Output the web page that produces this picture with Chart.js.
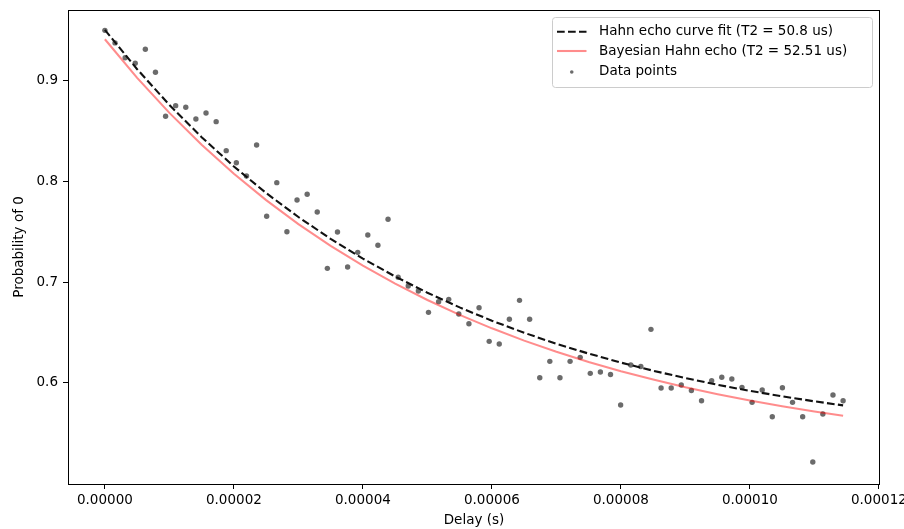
<!DOCTYPE html>
<html>
<head>
<meta charset="utf-8">
<script src="https://cdn.jsdelivr.net/npm/chart.js@4.4.1/dist/chart.umd.min.js"></script>
<style>
  html, body { margin: 0; padding: 0; background: #fff; }
  canvas { display: block; }
</style>
</head>
<body>
<canvas id="chart" width="904" height="529"></canvas>
<script>
// Hahn echo measurement: delay in microseconds, probability of measuring 0
const delaysUs = [
    0, 1.57, 3.14, 4.70, 6.27, 7.84, 9.41, 10.97, 12.54, 14.11,
    15.68, 17.25, 18.81, 20.38, 21.95, 23.52, 25.08, 26.65, 28.22, 29.79,
    31.36, 32.92, 34.49, 36.06, 37.63, 39.20, 40.76, 42.33, 43.90, 45.47,
    47.03, 48.60, 50.17, 51.74, 53.31, 54.87, 56.44, 58.01, 59.58, 61.14,
    62.71, 64.28, 65.85, 67.42, 68.98, 70.55, 72.12, 73.69, 75.25, 76.82,
    78.39, 79.96, 81.53, 83.09, 84.66, 86.23, 87.80, 89.36, 90.93, 92.50,
    94.07, 95.64, 97.20, 98.77, 100.34, 101.91, 103.47, 105.04, 106.61, 108.18,
    109.75, 111.31, 112.88, 114.45
];
const probabilities = [
    0.950, 0.9375, 0.9228, 0.9173, 0.9312, 0.9083, 0.8646, 0.8752, 0.8736, 0.8620,
    0.8679, 0.8593, 0.8305, 0.8185, 0.8053, 0.8361, 0.7653, 0.7987, 0.7500, 0.7815,
    0.7872, 0.7696, 0.7136, 0.7497, 0.7149, 0.7295, 0.7467, 0.7365, 0.7623, 0.7047,
    0.6961, 0.6911, 0.6699, 0.6805, 0.6828, 0.6682, 0.6586, 0.6745, 0.6411, 0.6384,
    0.6630, 0.6818, 0.6630, 0.6050, 0.6212, 0.6050, 0.6212, 0.6252, 0.6093, 0.6106,
    0.6081, 0.5778, 0.6176, 0.6161, 0.6530, 0.5947, 0.5947, 0.5977, 0.5922, 0.5821,
    0.6020, 0.6054, 0.6037, 0.5954, 0.5805, 0.5927, 0.5662, 0.5950, 0.5805, 0.5662,
    0.5212, 0.5689, 0.5878, 0.5821
];

// fitted curves
const curveTimesUs = [
    0, 5, 10, 15, 20, 25, 30, 35, 40, 45, 50, 55,
    60, 65, 70, 75, 80, 85, 90, 95, 100, 105, 110, 114.45
];
const hahnFit = [
    0.9504, 0.9114, 0.8759, 0.8439, 0.8148, 0.7884, 0.7646, 0.7429, 0.7233, 0.7055, 0.6894, 0.6748,
    0.6616, 0.6496, 0.6387, 0.6289, 0.6200, 0.6119, 0.6046, 0.5979, 0.5919, 0.5865, 0.5815, 0.5775
];
const bayesFit = [
    0.9411, 0.9028, 0.8680, 0.8363, 0.8076, 0.7814, 0.7576, 0.7360, 0.7163, 0.6984, 0.6822, 0.6674,
    0.6540, 0.6418, 0.6307, 0.6206, 0.6114, 0.6031, 0.5954, 0.5886, 0.5823, 0.5766, 0.5714, 0.5672
];

const seriesLabels = [
    'Hahn echo curve fit (T2 = 50.8 us)',
    'Bayesian Hahn echo (T2 = 52.51 us)',
    'Data points'
];
const xTicksUs = [0, 20, 40, 60, 80, 100, 120];
const yTicks = [0.6, 0.7, 0.8, 0.9];

const FONT = { family: 'DejaVu Sans', size: 13.5 };
const DASH = [7.7, 3.3];
const RED = 'rgba(255, 0, 0, 0.45)';
const DOT = 'rgba(0, 0, 0, 0.58)';

Chart.defaults.font.family = FONT.family;
Chart.defaults.font.size = FONT.size;
Chart.defaults.color = '#000';

const toXY = (xs, ys) => xs.map((x, i) => ({ x, y: ys[i] }));

// matplotlib-style frame around the plot area
const framePlugin = {
    id: 'frame',
    afterDatasetsDraw(chart) {
        const { ctx, chartArea: a } = chart;
        ctx.save();
        ctx.strokeStyle = '#000';
        ctx.lineWidth = 1;
        ctx.strokeRect(Math.round(a.left) + 0.5, Math.round(a.top) + 0.5,
            Math.round(a.right - a.left) - 1, Math.round(a.bottom - a.top));
        ctx.restore();
    }
};

// legend box in the upper right corner of the axes
const legendPlugin = {
    id: 'mplLegend',
    afterDraw(chart) {
        const { ctx, chartArea: a } = chart;
        const boxW = 320, boxH = 70;
        const bx = a.right - 7.5 - boxW, by = a.top + 7.5;
        ctx.save();
        ctx.fillStyle = 'rgba(255,255,255,0.8)';
        ctx.strokeStyle = '#cccccc';
        ctx.lineWidth = 1;
        ctx.beginPath();
        ctx.roundRect(bx, by, boxW, boxH, 3);
        ctx.fill();
        ctx.stroke();

        const rowY = [by + 14.2, by + 33.5, by + 53.5];
        const hx0 = bx + 4.5, hx1 = bx + 34;
        chart.data.datasets.forEach((ds, i) => {
            const y = rowY[i];
            if (ds.showLine) {
                ctx.strokeStyle = ds.borderColor;
                ctx.lineWidth = ds.borderWidth;
                ctx.setLineDash(ds.borderDash || []);
                ctx.beginPath();
                ctx.moveTo(hx0, y);
                ctx.lineTo(hx1, y);
                ctx.stroke();
                ctx.setLineDash([]);
            } else {
                ctx.fillStyle = ds.backgroundColor;
                ctx.beginPath();
                ctx.arc((hx0 + hx1) / 2, y + 1, 1.8, 0, Math.PI * 2);
                ctx.fill();
            }
            ctx.fillStyle = '#000';
            ctx.font = `${FONT.size}px "${FONT.family}"`;
            ctx.textBaseline = 'middle';
            ctx.textAlign = 'left';
            ctx.fillText(ds.label, bx + 46.5, y);
        });
        ctx.restore();
    }
};

new Chart(document.getElementById('chart'), {
    type: 'scatter',
    data: {
        datasets: [
            {
                label: seriesLabels[0],
                data: toXY(curveTimesUs, hahnFit),
                showLine: true,
                borderColor: '#111',
                borderWidth: 2.1,
                borderDash: DASH,
                pointRadius: 0,
                fill: false,
            },
            {
                label: seriesLabels[1],
                data: toXY(curveTimesUs, bayesFit),
                showLine: true,
                borderColor: RED,
                borderWidth: 2.1,
                pointRadius: 0,
                fill: false,
            },
            {
                label: seriesLabels[2],
                data: toXY(delaysUs, probabilities),
                showLine: false,
                backgroundColor: DOT,
                borderWidth: 0,
                pointRadius: 2.7,
            }
        ]
    },
    options: {
        responsive: false,
        animation: false,
        layout: { padding: { top: 10, right: 24, left: 0, bottom: 0 } },
        plugins: {
            legend: { display: false },
            tooltip: { enabled: false },
        },
        scales: {
            x: {
                type: 'linear',
                min: -5.72,
                max: 120.17,
                afterBuildTicks(scale) {
                    scale.ticks = xTicksUs.map(v => ({ value: v }));
                },
                afterFit(scale) {
                    scale.height = 45;
                    scale.paddingLeft = 0;
                    scale.paddingRight = 0;
                },
                border: { display: false },
                grid: {
                    drawOnChartArea: false,
                    drawTicks: true,
                    tickLength: 5,
                    tickColor: '#000',
                    tickWidth: 1,
                },
                ticks: {
                    padding: 3.5,
                    maxRotation: 0,
                    autoSkip: false,
                    color: '#000',
                    callback: v => (v / 1e6).toFixed(5),
                },
                title: {
                    display: true,
                    text: 'Delay (s)',
                    color: '#000',
                    padding: { top: 0, bottom: 0 },
                },
            },
            y: {
                type: 'linear',
                min: 0.4994,
                max: 0.9702,
                afterBuildTicks(scale) {
                    scale.ticks = yTicks.map(v => ({ value: v }));
                },
                afterFit(scale) {
                    scale.width = 68;
                    scale.paddingTop = 0;
                    scale.paddingBottom = 0;
                },
                border: { display: false },
                grid: {
                    drawOnChartArea: false,
                    drawTicks: true,
                    tickLength: 5,
                    tickColor: '#000',
                    tickWidth: 1,
                },
                ticks: {
                    padding: 5,
                    autoSkip: false,
                    color: '#000',
                    callback: v => v.toFixed(1),
                },
                title: {
                    display: true,
                    text: 'Probability of 0',
                    color: '#000',
                    padding: { top: 11, bottom: 0 },
                },
            }
        }
    },
    plugins: [framePlugin, legendPlugin]
});
</script>
</body>
</html>
